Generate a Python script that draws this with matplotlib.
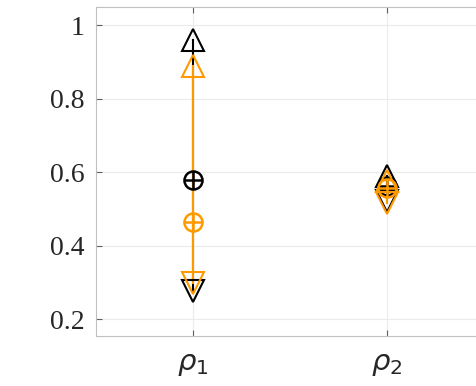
import numpy as np
import matplotlib.pyplot as plt

# per-parameter summary: max / mean / min for two runs
params = [r'$\rho_1$', r'$\rho_2$']
xpos = [1, 2]

black_max = [0.959, 0.590]
black_mean = [0.578, 0.563]
black_min = [0.278, 0.522]

orange_max = [0.889, 0.577]
orange_mean = [0.466, 0.556]
orange_min = [0.300, 0.516]

BLACK = '#000000'
ORANGE = '#FF9900'

plt.rcParams['mathtext.fontset'] = 'dejavusans'

fig = plt.figure(figsize=(4.77, 3.86), dpi=100)
# axes runs past the right edge of the figure
ax = fig.add_axes([0.2013, 0.1295, 0.8134, 0.8523])


def draw_set(color, vmax, vmean, vmin):
    for x, hi, mu, lo in zip(xpos, vmax, vmean, vmin):
        ax.plot([x, x], [lo, hi], color=color, lw=1.5, zorder=2)
        ax.plot(x, hi, marker='^', ms=16, mfc='none', mec=color, mew=1.5, zorder=3)
        ax.plot(x, lo, marker='v', ms=16, mfc='none', mec=color, mew=1.5, zorder=3)
        ax.plot(x, mu, marker='o', ms=13, mfc='none', mec=color, mew=1.8, zorder=3)
        ax.plot(x, mu, marker='+', ms=13, mec=color, mew=1.8, zorder=3)


draw_set(BLACK, black_max, black_mean, black_min)
draw_set(ORANGE, orange_max, orange_mean, orange_min)

ax.set_xlim(0.5, 2.5)
ax.set_ylim(0.155, 1.049)
ax.set_xticks(xpos)
ax.set_xticklabels(params, fontsize=21, color='#262626')
ax.set_yticks([0.2, 0.4, 0.6, 0.8, 1.0])
ax.set_yticklabels(['0.2', '0.4', '0.6', '0.8', '1'], family='Liberation Serif', fontsize=20, color='#262626')

ax.grid(True, color='#ebebeb', lw=0.8)
ax.set_axisbelow(True)
for s in ax.spines.values():
    s.set_color('#c0c0c0')
    s.set_linewidth(0.8)
ax.tick_params(direction='in', length=4, width=0.8, color='#606060',
               top=True, right=True, pad=8)
ax.tick_params(axis='x', pad=10)

fig.savefig('out.png', dpi=100, facecolor='white')
